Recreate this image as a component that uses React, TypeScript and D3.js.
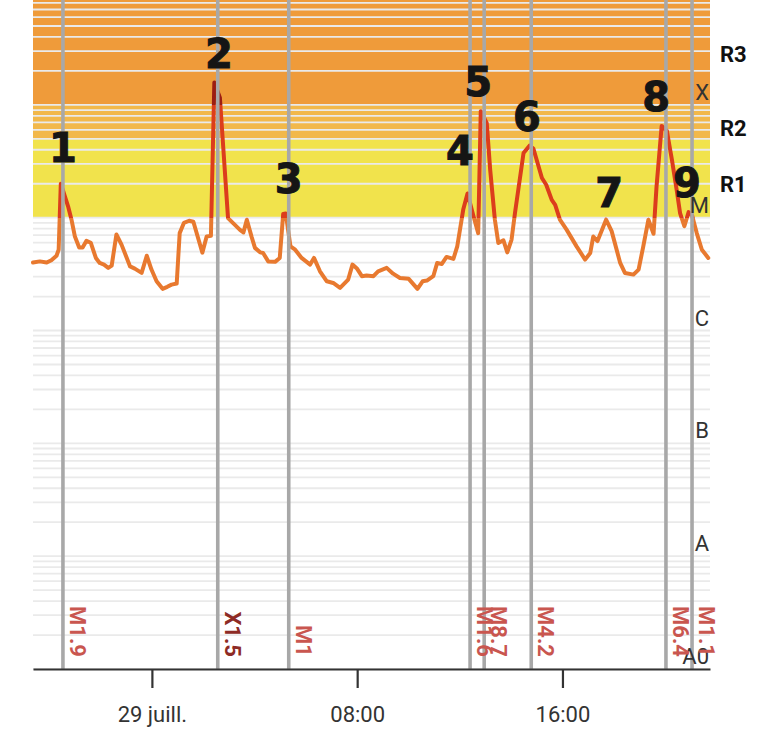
import React, { useEffect, useRef } from "react";
import * as d3 from "d3";

// ---- data (times in minutes from 29 July 00:00 UTC, flux in W/m²) ----
const BASE_MS = Date.UTC(2024, 6, 29, 0, 0);
const DOMAIN_MIN = [-278, 1305];
const FLUX_RANGE = [1e-9, 8.5e-4];

const timesMin = [
  -278, -262, -246, -235, -223, -218, -213, -207, -196, -188, -180, -170, -162, -153, -143, -131, -122, -112, -102, -94,
  -83, -71, -51, -40, -24, -12, -1, 11, 25, 36, 46, 58, 65, 75, 87, 97, 108, 118, 128, 138,
  146, 159, 178, 206, 214, 222, 233, 241, 253, 260, 272, 288, 299, 307, 313, 324, 335, 350, 370, 379,
  393, 409, 424, 440, 459, 469, 480, 491, 502, 518, 529, 549, 564, 580, 600, 621, 633, 643, 658, 667,
  678, 689, 705, 714, 728, 738, 752, 763, 769, 783, 791, 802, 810, 822, 831, 841, 849, 869, 883, 892,
  912, 922, 935, 943, 954, 970, 993, 1013, 1025, 1032, 1042, 1062, 1075, 1095, 1106, 1126, 1138, 1149, 1161, 1173,
  1180, 1192, 1204, 1216, 1227, 1235, 1245, 1255, 1263, 1274, 1286, 1301,
];

const fluxValues = [
  4.0e-6, 4.1e-6, 4.0e-6, 4.2e-6, 4.6e-6, 5.2e-6, 2.0e-5, 1.7e-5, 1.26e-5, 9.6e-6, 6.8e-6, 5.45e-6, 5.45e-6, 6.25e-6, 6.0e-6, 4.4e-6, 3.97e-6, 3.84e-6, 3.59e-6, 3.76e-6,
  7.1e-6, 5.77e-6, 3.7e-6, 3.54e-6, 3.24e-6, 4.6e-6, 3.47e-6, 2.73e-6, 2.34e-6, 2.44e-6, 2.55e-6, 2.61e-6, 7.3e-6, 9.0e-6, 9.4e-6, 9.2e-6, 6.6e-6, 4.9e-6, 6.8e-6, 6.9e-6,
  1.58e-4, 1.16e-4, 9.9e-6, 7.8e-6, 7.4e-6, 9.6e-6, 6.8e-6, 5.4e-6, 4.93e-6, 4.87e-6, 4.1e-6, 4.06e-6, 4.4e-6, 1.08e-5, 1.09e-5, 5.57e-6, 5.2e-6, 4.4e-6, 3.84e-6, 4.4e-6,
  3.35e-6, 2.73e-6, 2.64e-6, 2.39e-6, 2.83e-6, 3.84e-6, 3.52e-6, 3.03e-6, 3.07e-6, 3.03e-6, 3.35e-6, 3.59e-6, 3.19e-6, 2.92e-6, 2.88e-6, 2.34e-6, 2.73e-6, 2.77e-6, 3.03e-6, 3.97e-6,
  3.89e-6, 4.49e-6, 4.31e-6, 5.57e-6, 1.18e-5, 1.64e-5, 1.03e-5, 7.3e-6, 8.8e-5, 6.9e-5, 2.66e-5, 9.6e-6, 5.97e-6, 6.3e-6, 4.93e-6, 6.4e-6, 1.1e-5, 3.74e-5, 4.35e-5, 4.1e-5,
  2.25e-5, 1.96e-5, 1.44e-5, 1.3e-5, 9.6e-6, 7.8e-6, 5.57e-6, 4.25e-6, 4.87e-6, 6.8e-6, 6.2e-6, 9.6e-6, 7.6e-6, 3.97e-6, 3.24e-6, 3.13e-6, 3.47e-6, 5.57e-6, 9.6e-6, 7.2e-6,
  1.89e-5, 6.5e-5, 5.9e-5, 3.26e-5, 1.77e-5, 1.1e-5, 8.4e-6, 1.12e-5, 1.05e-5, 7.3e-6, 5.2e-6, 4.4e-6,
];

const flareTimesMin = [-208, 154, 320, 744, 777, 887, 1202, 1263];
const flareLabels = ["M1.9", "X1.5", "M1", "M1.6", "M8.7", "M4.2", "M6.4", "M1.1"];

const classLabels = ["X", "M", "C", "B", "A", "A0"];
const classLevels = [1e-4, 1e-5, 1e-6, 1e-7, 1e-8, 1e-9];

const radioLabels = ["R1", "R2", "R3"];
const radioLow = [1e-5, 5e-5, 1e-4];
const radioHigh = [5e-5, 1e-4, 1e-3];

const tickTimesMin = [0, 480, 960];
const tickLabels = ["29 juill.", "08:00", "16:00"];

const noteTexts = ["1", "2", "3", "4", "5", "6", "7", "8", "9"];
const noteTimesMin = [-208, 157, 320, 720, 763, 877, 1069, 1179, 1251];
const noteFlux = [4.16e-5, 2.83e-4, 2.21e-5, 3.91e-5, 1.6e-4, 7.83e-5, 1.66e-5, 1.18e-4, 2.04e-5];

// ---- layout ----
const W = 781;
const H = 750;
const LEFT = 33;
const RIGHT = 710;
const TOP = 0;
const BOTTOM = 669;
const FONT = "Roboto, 'Noto Sans', sans-serif";
const BAND_COLORS = ["#f1e34c", "#f2b84a", "#ef9b3a"];

const toDate = (m: number) => new Date(BASE_MS + m * 60000);

export default function App() {
  const axisRef = useRef<SVGGElement>(null);

  const x = d3.scaleUtc().domain(DOMAIN_MIN.map(toDate)).range([LEFT, RIGHT]);
  const y = d3.scaleLog().domain(FLUX_RANGE).range([BOTTOM, TOP]);

  const points = timesMin.map((t, i) => ({ t: toDate(t), v: fluxValues[i] }));
  const line = d3
    .line<{ t: Date; v: number }>()
    .x((d) => x(d.t))
    .y((d) => y(d.v));

  const grid: number[] = [];
  for (let e = -9; e <= -4; e++) {
    for (let k = 1; k <= 9; k++) {
      const v = k * Math.pow(10, e);
      if (v >= FLUX_RANGE[0] && v <= FLUX_RANGE[1]) grid.push(v);
    }
  }

  const yM = y(1e-5);
  const yX = y(1e-4);
  const off = (py: number) => (BOTTOM - py) / (BOTTOM - TOP);

  useEffect(() => {
    if (!axisRef.current) return;
    const g = d3.select(axisRef.current);
    const axis = d3
      .axisBottom(x)
      .tickValues(tickTimesMin.map(toDate))
      .tickFormat((_d, i) => tickLabels[i])
      .tickSize(19)
      .tickSizeOuter(0)
      .tickPadding(18);
    g.call(axis as any);
    g.attr("font-family", FONT).attr("font-size", 22);
    g.select(".domain").attr("stroke", "#333").attr("stroke-width", 2.2);
    g.selectAll(".tick line").attr("stroke", "#333").attr("stroke-width", 2.2);
    g.selectAll(".tick text").attr("fill", "#333");
  }, []);

  return (
    <svg
      width={W}
      height={H}
      style={{ position: "absolute", left: 0, top: 0, background: "#fff" }}
    >
      <defs>
        <linearGradient id="fluxGrad" gradientUnits="userSpaceOnUse" x1={0} y1={BOTTOM} x2={0} y2={TOP}>
          <stop offset={0} stopColor="#e8792f" />
          <stop offset={off(yM)} stopColor="#e8792f" />
          <stop offset={off(yM)} stopColor="#dc3d1c" />
          <stop offset={off(yX)} stopColor="#dc3d1c" />
          <stop offset={off(yX)} stopColor="#9c1d12" />
          <stop offset={1} stopColor="#9c1d12" />
        </linearGradient>
        <clipPath id="plotClip">
          <rect x={LEFT} y={TOP} width={RIGHT - LEFT} height={BOTTOM - TOP} />
        </clipPath>
      </defs>

      <g clipPath="url(#plotClip)">
        {radioLow.map((lo, i) => (
          <rect
            key={radioLabels[i]}
            x={LEFT}
            width={RIGHT - LEFT}
            y={y(radioHigh[i])}
            height={y(lo) - y(radioHigh[i])}
            fill={BAND_COLORS[i]}
          />
        ))}
      </g>

      <g>
        {grid.map((v, i) => (
          <line key={i} x1={LEFT} x2={RIGHT} y1={y(v)} y2={y(v)} stroke="#eaeaea" strokeWidth={1.8} />
        ))}
      </g>

      <path
        d={line(points) || ""}
        fill="none"
        stroke="url(#fluxGrad)"
        strokeWidth={4}
        strokeLinejoin="round"
        strokeLinecap="round"
      />

      <g>
        {flareTimesMin.map((t, i) => (
          <line
            key={i}
            x1={x(toDate(t))}
            x2={x(toDate(t))}
            y1={TOP}
            y2={BOTTOM}
            stroke="#a8a8a8"
            strokeWidth={3.6}
          />
        ))}
      </g>

      <g fontFamily={FONT} fontSize={22} fill="#333">
        {classLevels.map((v, i) => (
          <text key={classLabels[i]} x={RIGHT - 1} y={y(v) - 5} textAnchor="end">
            {classLabels[i]}
          </text>
        ))}
      </g>

      <g fontFamily={FONT} fontSize={22} fontWeight={700}>
        {flareTimesMin.map((t, i) => (
          <text
            key={i}
            transform={`translate(${x(toDate(t)) + 7},${BOTTOM - 12}) rotate(90)`}
            textAnchor="end"
            fill={flareLabels[i].startsWith("X") ? "#8e2b25" : "#c9564f"}
          >
            {flareLabels[i]}
          </text>
        ))}
      </g>

      <g fontFamily={FONT} fontSize={22} fontWeight={700} fill="#111">
        {radioLow.map((lo, i) => (
          <text key={radioLabels[i]} x={RIGHT + 10} y={y(Math.sqrt(lo * radioHigh[i])) + 14}>
            {radioLabels[i]}
          </text>
        ))}
      </g>

      <g fontFamily="'DejaVu Sans', sans-serif" fontSize={40} fontWeight={700} fill="#151515" stroke="#151515" strokeWidth={1}>
        {noteTexts.map((s, i) => (
          <text
            key={s}
            x={x(toDate(noteTimesMin[i]))}
            y={y(noteFlux[i])}
            textAnchor="middle"
            dominantBaseline="central"
          >
            {s}
          </text>
        ))}
      </g>

      <g ref={axisRef} transform={`translate(0,${BOTTOM})`} />
    </svg>
  );
}
